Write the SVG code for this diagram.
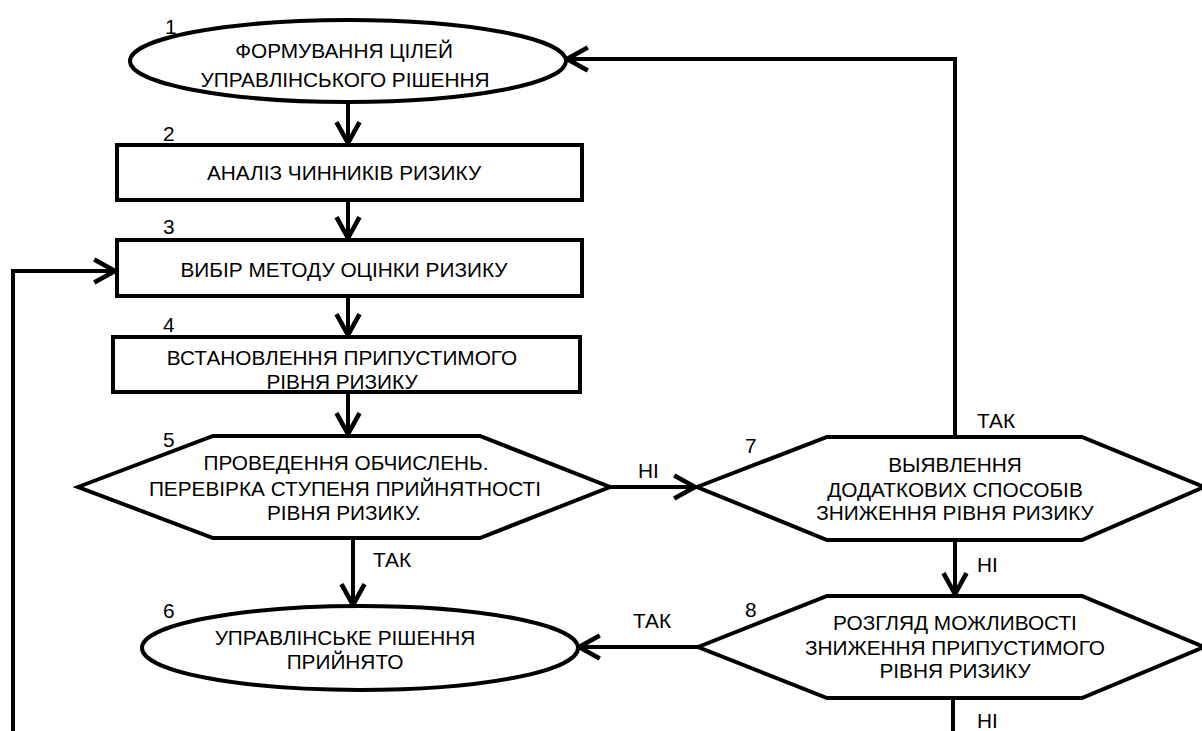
<svg xmlns="http://www.w3.org/2000/svg" width="1202" height="731" viewBox="0 0 1202 731">
<defs>
<style>
.shape{fill:#fff;stroke:#000;stroke-width:4}
.conn{fill:none;stroke:#000;stroke-width:4}
text{font-family:"Liberation Sans",Arial,sans-serif;font-size:20.8px;fill:#000}
.c{text-anchor:middle}
</style>
<marker id="arr" markerUnits="userSpaceOnUse" markerWidth="30" markerHeight="30" viewBox="-22 -13 26 26" refX="0" refY="0" orient="auto">
<path d="M-18,-10 L0,0 L-18,10" fill="none" stroke="#000" stroke-width="4"/>
</marker>
</defs>
<rect width="1202" height="731" fill="#fff"/>
<g id="connectors">
<line class="conn" x1="348" y1="102" x2="348" y2="143" marker-end="url(#arr)"/>
<line class="conn" x1="348" y1="200" x2="348" y2="238" marker-end="url(#arr)"/>
<line class="conn" x1="348" y1="296" x2="348" y2="335" marker-end="url(#arr)"/>
<line class="conn" x1="348" y1="392" x2="348" y2="434" marker-end="url(#arr)"/>
<line class="conn" x1="610" y1="487" x2="695" y2="487" marker-end="url(#arr)"/>
<line class="conn" x1="353" y1="538" x2="353" y2="605" marker-end="url(#arr)"/>
<polyline class="conn" points="955,437 955,59 567,59" marker-end="url(#arr)"/>
<line class="conn" x1="955" y1="540" x2="955" y2="594" marker-end="url(#arr)"/>
<line class="conn" x1="698" y1="647" x2="579" y2="647" marker-end="url(#arr)"/>
<line class="conn" x1="953" y1="698" x2="953" y2="731"/>
<polyline class="conn" points="13,731 13,271 115,271" marker-end="url(#arr)"/>
<text x="373" y="567">ТАК</text>
<text x="638" y="478">НІ</text>
<text x="977" y="428">ТАК</text>
<text x="977" y="572">НІ</text>
<text x="633" y="628">ТАК</text>
<text x="977" y="728">НІ</text>
</g>
<g id="n1">
<ellipse class="shape" cx="348" cy="61" rx="218" ry="41"/>
<text x="165" y="34">1</text>
<text class="c" x="344" y="58">ФОРМУВАННЯ ЦІЛЕЙ</text>
<text class="c" x="345" y="87">УПРАВЛІНСЬКОГО РІШЕННЯ</text>
</g>
<g id="n2">
<rect class="shape" x="117" y="145" width="465" height="55"/>
<text x="163" y="141">2</text>
<text class="c" x="344" y="180">АНАЛІЗ ЧИННИКІВ РИЗИКУ</text>
</g>
<g id="n3">
<rect class="shape" x="117" y="240" width="465" height="56"/>
<text x="163" y="234">3</text>
<text class="c" x="344" y="277">ВИБІР МЕТОДУ ОЦІНКИ РИЗИКУ</text>
</g>
<g id="n4">
<rect class="shape" x="113" y="337" width="467" height="55"/>
<text x="163" y="332">4</text>
<text class="c" x="342" y="365">ВСТАНОВЛЕННЯ ПРИПУСТИМОГО</text>
<text class="c" x="342" y="389">РІВНЯ РИЗИКУ</text>
</g>
<g id="n5">
<polygon class="shape" points="78,487 213,436 480,436 610,487 480,538 213,538"/>
<text x="163" y="447">5</text>
<text class="c" x="346" y="470">ПРОВЕДЕННЯ ОБЧИСЛЕНЬ.</text>
<text class="c" x="345" y="496">ПЕРЕВІРКА СТУПЕНЯ ПРИЙНЯТНОСТІ</text>
<text class="c" x="344" y="520">РІВНЯ РИЗИКУ.</text>
</g>
<g id="n6">
<ellipse class="shape" cx="360" cy="648" rx="218" ry="42"/>
<text x="163" y="618">6</text>
<text class="c" x="345" y="645">УПРАВЛІНСЬКЕ РІШЕННЯ</text>
<text class="c" x="345" y="669">ПРИЙНЯТО</text>
</g>
<g id="n7">
<polygon class="shape" points="697,487 827,437 1082,437 1204,487 1082,540 827,540"/>
<text x="745" y="453">7</text>
<text class="c" x="955" y="472">ВЫЯВЛЕННЯ</text>
<text class="c" x="955" y="497">ДОДАТКОВИХ СПОСОБІВ</text>
<text class="c" x="955" y="520">ЗНИЖЕННЯ РІВНЯ РИЗИКУ</text>
</g>
<g id="n8">
<polygon class="shape" points="698,647 827,596 1082,596 1204,647 1082,698 827,698"/>
<text x="745" y="617">8</text>
<text class="c" x="955" y="630">РОЗГЛЯД МОЖЛИВОСТІ</text>
<text class="c" x="955" y="655">ЗНИЖЕННЯ ПРИПУСТИМОГО</text>
<text class="c" x="955" y="678">РІВНЯ РИЗИКУ</text>
</g>
</svg>
